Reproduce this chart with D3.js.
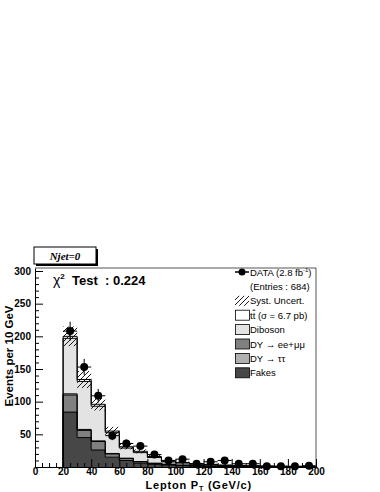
<!DOCTYPE html>
<html>
<head>
<meta charset="utf-8">
<script src="https://cdn.jsdelivr.net/npm/d3@7"></script>
<style>
 body { margin: 0; background: #fff; }
 svg { font-family: "Liberation Sans", Arial, sans-serif; }
</style>
</head>
<body>
<div id="chart"></div>
<script>
// bin low edges (GeV/c), 10 GeV wide
const binEdges = [20, 30, 40, 50, 60, 70, 80, 90, 100, 110, 120, 130, 140, 150, 160, 170, 180, 190];
// stacked backgrounds, bottom to top
const fakes   = [84, 45, 26, 15, 10, 6, 4, 3, 2, 1.5, 1, 0.8, 0.6, 0.5, 0.4, 0.3, 0.3, 0.2];
const dyEEMM  = [26, 11, 13, 5, 3, 2, 1.5, 1, 0.7, 0.5, 0.4, 0.3, 0.2, 0.2, 0.1, 0.1, 0.1, 0.1];
const dyTT    = [2, 1.5, 1, 0.7, 0.5, 0.4, 0.3, 0.2, 0.2, 0.1, 0.1, 0.1, 0, 0, 0, 0, 0, 0];
const diboson = [85, 73.5, 53, 31.8, 15.5, 13.6, 8.7, 3.6, 3.1, 2.1, 1.8, 1.2, 1.2, 0.9, 0.7, 0.5, 0.4, 0.3];
const ttbar   = [3, 3, 3, 2.5, 2, 2, 1.5, 1.2, 1, 0.8, 0.7, 0.6, 0.5, 0.4, 0.3, 0.3, 0.2, 0.2];
// systematic uncertainty on the total (absolute, +-)
const systUnc = [15, 13, 9.5, 6.5, 4, 3, 2.2, 1.5, 1.2, 1, 0.8, 0.6, 0.5, 0.4, 0.3, 0.3, 0.2, 0.2];
// observed data
const dataCounts = [208, 153, 109, 48, 36, 32, 19, 10, 12, 5, 8, 10, 5, 5, 1, 1, 1, 2];

const xTicks = [0, 20, 40, 60, 80, 100, 120, 140, 160, 180, 200];
const yTicks = [50, 100, 150, 200, 250, 300];

const samples = [
  { key: 'fakes', vals: fakes, color: '#474747' },
  { key: 'dyee', vals: dyEEMM, color: '#808080' },
  { key: 'dytt', vals: dyTT, color: '#b0b0b0' },
  { key: 'diboson', vals: diboson, color: '#e3e3e3' },
  { key: 'ttbar', vals: ttbar, color: '#ffffff' }
];

const W = 380, H = 492;
const mLeft = 35, mRight = 316, mTop = 268, mBottom = 467;
const binW = 10;

const svg = d3.select('#chart').append('svg')
  .attr('width', W).attr('height', H);

const x = d3.scaleLinear().domain([0, 200]).range([mLeft, mRight]);
const y = d3.scaleLinear().domain([0, 304.6]).range([mBottom, mTop]);

// hatch pattern for syst. band
const defs = svg.append('defs');
const pat = defs.append('pattern')
  .attr('id', 'hatch')
  .attr('patternUnits', 'userSpaceOnUse')
  .attr('width', 5).attr('height', 5);
pat.append('path')
  .attr('d', 'M-1,1 L1,-1 M0,5 L5,0 M4,6 L6,4')
  .attr('stroke', '#000').attr('stroke-width', 0.9);

// build stack
const table = binEdges.map((e, i) => {
  const row = { edge: e };
  samples.forEach(s => row[s.key] = s.vals[i]);
  return row;
});
const stack = d3.stack().keys(samples.map(s => s.key));
const layers = stack(table);

const area = d3.area()
  .curve(d3.curveStepAfter)
  .x(d => x(d.x))
  .y0(d => y(d.y0))
  .y1(d => y(d.y1));

const line = d3.line()
  .curve(d3.curveStepAfter)
  .x(d => x(d.x))
  .y(d => y(d.y));

layers.forEach((layer, li) => {
  const pts = layer.map((d, i) => ({ x: binEdges[i], y0: d[0], y1: d[1] }));
  const last = pts[pts.length - 1];
  pts.push({ x: last.x + binW, y0: last.y0, y1: last.y1 });
  svg.append('path')
    .attr('d', area(pts))
    .attr('fill', samples[li].color)
    .attr('stroke', 'none');
});

// outlines of each layer top
layers.forEach(layer => {
  const pts = [{ x: binEdges[0], y: 0 }];
  layer.forEach((d, i) => pts.push({ x: binEdges[i], y: d[1] }));
  pts.push({ x: binEdges[binEdges.length - 1] + binW, y: layer[layer.length - 1][1] });
  svg.append('path')
    .attr('d', line(pts))
    .attr('fill', 'none')
    .attr('stroke', '#000')
    .attr('stroke-width', 1);
});

// syst band
const totals = binEdges.map((e, i) => d3.sum(samples, s => s.vals[i]));
svg.append('g').selectAll('rect')
  .data(binEdges)
  .join('rect')
  .attr('x', d => x(d))
  .attr('width', x(binW) - x(0))
  .attr('y', (d, i) => y(totals[i] + systUnc[i]))
  .attr('height', (d, i) => y(totals[i] - systUnc[i]) - y(totals[i] + systUnc[i]))
  .attr('fill', 'url(#hatch)');

// data points
const dg = svg.append('g');
binEdges.forEach((e, i) => {
  const n = dataCounts[i];
  const cx = x(e + binW / 2);
  const err = Math.sqrt(n);
  dg.append('line')
    .attr('x1', x(e)).attr('x2', x(e + binW))
    .attr('y1', y(n)).attr('y2', y(n))
    .attr('stroke', '#000').attr('stroke-width', 1);
  dg.append('line')
    .attr('x1', cx).attr('x2', cx)
    .attr('y1', y(n + err)).attr('y2', y(Math.max(n - err, 0)))
    .attr('stroke', '#000').attr('stroke-width', 1);
  dg.append('circle')
    .attr('cx', cx).attr('cy', y(n)).attr('r', 4)
    .attr('fill', '#000');
});

// frame top/right
svg.append('path')
  .attr('d', `M${mLeft},${mTop}H${mRight}V${mBottom}`)
  .attr('fill', 'none').attr('stroke', '#555').attr('stroke-width', 1);

// y axis
const yMinor = d3.range(10, 301, 10).filter(v => v % 50 !== 0);
svg.append('g')
  .attr('transform', `translate(${mLeft},0)`)
  .call(d3.axisLeft(y).tickValues(yMinor).tickSize(-4).tickFormat(''))
  .call(g => g.select('.domain').remove());
const yAx = svg.append('g')
  .attr('transform', `translate(${mLeft},0)`)
  .call(d3.axisLeft(y).tickValues(yTicks).tickSize(-8).tickPadding(4).tickSizeOuter(0));
yAx.select('.domain').attr('stroke', '#000');
yAx.selectAll('text').attr('font-size', 10).attr('font-weight', 'bold')
  .attr('font-family', '"Liberation Sans", Arial, sans-serif');

// x axis
const xMinor = d3.range(0, 201, 5).filter(v => v % 20 !== 0);
svg.append('g')
  .attr('transform', `translate(0,${mBottom})`)
  .call(d3.axisBottom(x).tickValues(xMinor).tickSize(-4).tickFormat(''))
  .call(g => g.select('.domain').remove());
const xAx = svg.append('g')
  .attr('transform', `translate(0,${mBottom})`)
  .call(d3.axisBottom(x).tickValues(xTicks).tickSize(-8).tickPadding(1).tickSizeOuter(0));
xAx.select('.domain').attr('stroke', '#000');
xAx.selectAll('text').attr('font-size', 10).attr('font-weight', 'bold')
  .attr('font-family', '"Liberation Sans", Arial, sans-serif');

// axis titles
svg.append('text')
  .attr('transform', 'translate(13,356) rotate(-90)')
  .attr('text-anchor', 'middle')
  .attr('font-size', 11.5).attr('font-weight', 'bold')
  .text('Events per 10 GeV');

const xt = svg.append('text')
  .attr('x', 252).attr('y', 488.5)
  .attr('text-anchor', 'end')
  .attr('font-size', 11).attr('font-weight', 'bold')
  .attr('letter-spacing', 0.8);
xt.append('tspan').text('Lepton P');
xt.append('tspan').attr('font-size', 7).attr('dy', 2).text('T');
xt.append('tspan').attr('dy', -2).text(' (GeV/c)');

// Njet box
svg.append('rect').attr('x', 36).attr('y', 249).attr('width', 62).attr('height', 17).attr('fill', '#000');
svg.append('rect').attr('x', 34).attr('y', 247).attr('width', 62).attr('height', 17)
  .attr('fill', '#fff').attr('stroke', '#000').attr('stroke-width', 1);
svg.append('text')
  .attr('x', 65).attr('y', 259.5)
  .attr('text-anchor', 'middle')
  .attr('font-family', '"Liberation Serif", "Times New Roman", serif')
  .attr('font-style', 'italic').attr('font-weight', 'bold')
  .attr('font-size', 11)
  .text('Njet=0');

// chi2 text
const ct = svg.append('text')
  .attr('x', 53).attr('y', 285)
  .attr('font-size', 13).attr('font-weight', 'bold');
ct.append('tspan').attr('font-weight', 'normal').attr('font-size', 14).text('χ');
ct.append('tspan').attr('font-size', 8).attr('dy', -6).text('2');
ct.append('tspan').attr('dy', 6).attr('xml:space', 'preserve').text('  Test  : 0.224');

// legend
const lg = svg.append('g').attr('font-size', 9.5);
const lx = 235, ltx = 250, ly0 = 272, lstep = 14.4;
const legendRows = [
  { type: 'data', label: 'DATA (2.8 fb', sup: '-1', tail: ')' },
  { type: 'none', label: '(Entries : 684)' },
  { type: 'hatch', label: 'Syst. Uncert.' },
  { type: 'box', color: '#ffffff', label: 't', bar: 't', tail: ' (σ = 6.7 pb)' },
  { type: 'box', color: '#e3e3e3', label: 'Diboson' },
  { type: 'box', color: '#808080', label: 'DY → ee+μμ' },
  { type: 'box', color: '#b0b0b0', label: 'DY → ττ' },
  { type: 'box', color: '#474747', label: 'Fakes' }
];
legendRows.forEach((r, i) => {
  const cy = ly0 + i * lstep;
  if (r.type === 'data') {
    lg.append('line').attr('x1', lx).attr('x2', lx + 14).attr('y1', cy).attr('y2', cy)
      .attr('stroke', '#000').attr('stroke-width', 1.5);
    lg.append('circle').attr('cx', lx + 7).attr('cy', cy).attr('r', 3.5).attr('fill', '#000');
  } else if (r.type === 'hatch') {
    lg.append('rect').attr('x', lx).attr('y', cy - 5).attr('width', 14).attr('height', 10)
      .attr('fill', 'url(#hatch)');
  } else if (r.type === 'box') {
    lg.append('rect').attr('x', lx + 0.5).attr('y', cy - 5).attr('width', 14).attr('height', 10)
      .attr('fill', r.color).attr('stroke', '#000').attr('stroke-width', 0.8);
  }
  const t = lg.append('text').attr('x', ltx).attr('y', cy + 3.5);
  t.append('tspan').text(r.label);
  if (r.sup) {
    t.append('tspan').attr('font-size', 6).attr('dy', -4).text(r.sup);
    t.append('tspan').attr('dy', 4).text(r.tail);
  }
  if (r.bar) {
    t.append('tspan').attr('text-decoration', 'overline').text(r.bar);
    t.append('tspan').attr('xml:space', 'preserve').text(r.tail);
  }
});
</script>
</body>
</html>
